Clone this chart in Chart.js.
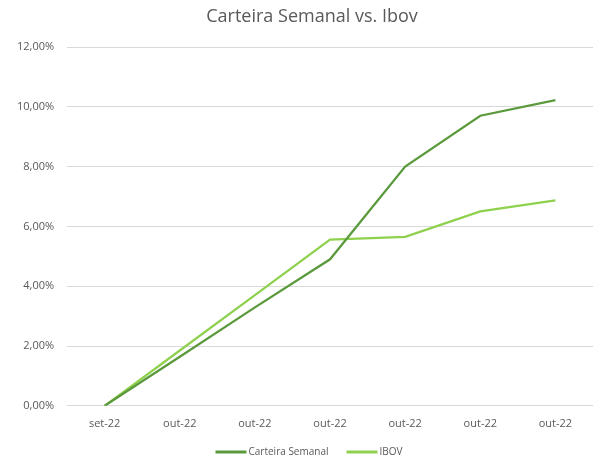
<!DOCTYPE html>
<html>
<head>
<meta charset="utf-8">
<script src="https://cdn.jsdelivr.net/npm/chart.js@4/dist/chart.umd.min.js"></script>
<style>
html,body{margin:0;padding:0;background:#fff;}
#wrap{width:593px;height:457px;position:relative;}
</style>
</head>
<body>
<div id="wrap"><canvas id="c" width="593" height="457"></canvas></div>
<script>
const categories = ['set-22','out-22','out-22','out-22','out-22','out-22','out-22'];
const carteiraSemanal = [0.00, 1.64, 3.29, 4.90, 8.00, 9.70, 10.22];
const ibov = [0.00, 1.85, 3.70, 5.56, 5.65, 6.50, 6.87];
const yTicks = [0, 2, 4, 6, 8, 10, 12];
const titleText = 'Carteira Semanal vs. Ibov';

const fmt = v => v.toFixed(2).replace('.', ',') + '%';
const FONT = "'Open Sans', 'Segoe UI', sans-serif";
const TEXT = '#595959';

const titleLegendPlugin = {
  id: 'titleLegend',
  afterDraw(chart) {
    const ctx = chart.ctx;
    ctx.save();
    // title
    ctx.fillStyle = TEXT;
    ctx.font = `18px ${FONT}`;
    ctx.textAlign = 'center';
    ctx.textBaseline = 'middle';
    ctx.fillText(titleText, 312, 17);
    // legend
    ctx.font = `10px ${FONT}`;
    ctx.textAlign = 'left';
    const sw = 31, tgap = 2, igap = 18;
    const items = chart.data.datasets.map(d => ({text: d.label, color: d.borderColor, w: ctx.measureText(d.label).width}));
    const total = items.reduce((s, it) => s + sw + tgap + it.w, 0) + igap * (items.length - 1);
    let x = 309 - total / 2;
    const y = 452;
    items.forEach(it => {
      ctx.strokeStyle = it.color;
      ctx.lineWidth = 3;
      ctx.beginPath();
      ctx.moveTo(x, y);
      ctx.lineTo(x + sw, y);
      ctx.stroke();
      x += sw + tgap;
      ctx.fillStyle = TEXT;
      ctx.fillText(it.text, x, y);
      x += it.w + igap;
    });
    ctx.restore();
  }
};

new Chart(document.getElementById('c'), {
  type: 'line',
  data: {
    labels: categories,
    datasets: [
      {label: 'Carteira Semanal', data: carteiraSemanal, borderColor: '#5b9a3c', backgroundColor: '#5b9a3c', borderWidth: 2.25, pointRadius: 0, pointHoverRadius: 0, tension: 0},
      {label: 'IBOV', data: ibov, borderColor: '#8fd14f', backgroundColor: '#8fd14f', borderWidth: 2.25, pointRadius: 0, pointHoverRadius: 0, tension: 0}
    ]
  },
  plugins: [titleLegendPlugin],
  options: {
    responsive: false,
    animation: false,
    layout: {autoPadding: false, padding: {left: 14, right: 0, top: 47, bottom: 16}},
    plugins: {
      title: {display: false},
      legend: {display: false},
      tooltip: {enabled: false}
    },
    scales: {
      x: {
        offset: true,
        grid: {display: false, drawTicks: false},
        border: {color: '#d9d9d9', width: 1},
        ticks: {color: TEXT, font: {family: FONT, size: 11}, padding: 11, maxRotation: 0, autoSkip: false}
      },
      y: {
        min: 0, max: 12,
        afterBuildTicks: ax => { ax.ticks = yTicks.map(v => ({value: v})); },
        grid: {color: '#d9d9d9', drawTicks: true, tickLength: 10, tickColor: '#ffffff'},
        border: {display: false},
        ticks: {color: TEXT, font: {family: FONT, size: 11}, padding: 3, callback: v => fmt(v)}
      }
    }
  }
});
</script>
</body>
</html>
